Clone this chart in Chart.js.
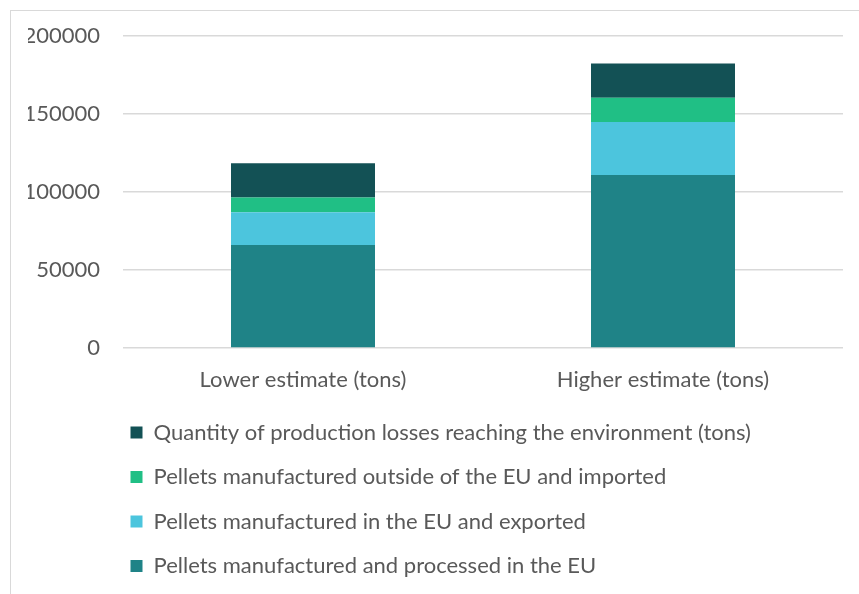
<!DOCTYPE html>
<html>
<head>
<meta charset="utf-8">
<script src="https://cdn.jsdelivr.net/npm/chart.js@4"></script>
<style>
  html, body { margin: 0; padding: 0; background: #fff; }
  #frame {
    position: absolute; left: 10px; top: 10px; width: 860px; height: 600px;
    border-left: 1px solid #d9d9d9; border-top: 1px solid #d9d9d9;
  }
  #wrap { position: absolute; left: 0; top: 0; width: 859px; height: 594px; }
</style>
</head>
<body>
<div id="frame"></div>
<div id="wrap"><canvas id="myChart"></canvas></div>
<script>
// categories and stacked series (tons)
const categories = ["Lower estimate (tons)", "Higher estimate (tons)"];
const processedInEU = [66000, 111000];
const exportedFromEU = [21000, 34000];
const importedToEU = [9500, 15500];
const productionLosses = [22000, 22000];
const yTicks = [0, 50000, 100000, 150000, 200000];

const textColor = "#595959";
const gridColor = "#d9d9d9";
const fontFamily = "Lato, 'Open Sans', sans-serif";

// shift the legend so its rows start under the plot, like the original
const legendShift = {
    id: 'legendShift',
    afterLayout(chart) {
        const lg = chart.legend;
        if (lg) {
            const w = lg.right - lg.left;
            lg.left = 108;
            lg.right = lg.left + w;
        }
    }
};

const ctx = document.getElementById('myChart');

new Chart(ctx, {
    type: "bar",
    data: {
        labels: categories,
        datasets: [
            { label: "Pellets manufactured and processed in the EU", data: processedInEU, backgroundColor: "#1f8387" },
            { label: "Pellets manufactured in the EU and exported", data: exportedFromEU, backgroundColor: "#4cc5dd" },
            { label: "Pellets manufactured outside of the EU and imported", data: importedToEU, backgroundColor: "#20bf85" },
            { label: "Quantity of production losses reaching the environment (tons)", data: productionLosses, backgroundColor: "#135155" }
        ]
    },
    options: {
        responsive: true,
        maintainAspectRatio: false,
        animation: false,
        layout: { padding: { left: 28, right: 16, top: 35, bottom: 7 } },
        datasets: { bar: { categoryPercentage: 1, barPercentage: 0.4 } },
        scales: {
            x: {
                stacked: true,
                grid: { display: false, drawTicks: false },
                border: { display: false },
                ticks: { color: textColor, font: { family: fontFamily, size: 22 }, padding: 19 },
                afterFit(scale) { scale.height = 51; }
            },
            y: {
                stacked: true,
                min: 0,
                max: 200000,
                afterBuildTicks(scale) { scale.ticks = yTicks.map(v => ({ value: v })); },
                grid: { color: gridColor, lineWidth: 1.5, drawTicks: false },
                border: { display: false },
                ticks: {
                    color: textColor,
                    font: { family: fontFamily, size: 22 },
                    padding: 23,
                    callback: (v) => String(v)
                },
                afterFit(scale) { scale.width = 95; }
            }
        },
        plugins: {
            legend: {
                display: true,
                position: "bottom",
                align: "start",
                reverse: true,
                labels: {
                    color: textColor,
                    font: { family: fontFamily, size: 22 },
                    boxWidth: 12,
                    boxHeight: 12,
                    padding: 22.5
                }
            },
            tooltip: { enabled: false }
        }
    },
    plugins: [legendShift]
});
</script>
</body>
</html>
